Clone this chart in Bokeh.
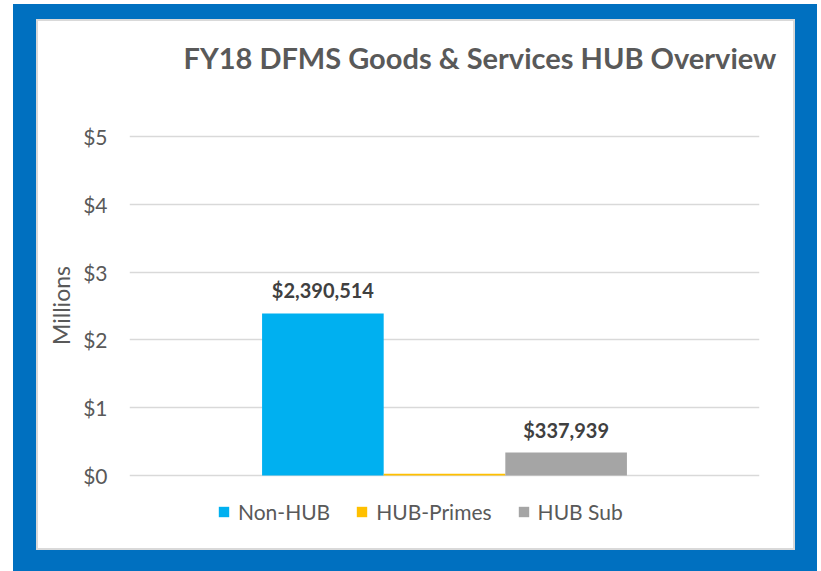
from bokeh.plotting import figure
from bokeh.models import (FactorRange, Range1d, ColumnDataSource, Title,
                          FixedTicker, NumeralTickFormatter)
from bokeh.core.properties import value
from bokeh.embed import file_html
from bokeh.resources import INLINE

title_text = "FY18 DFMS Goods & Services HUB Overview"
series = ["Non-HUB", "HUB-Primes", "HUB Sub"]
values = [2390514, 25000, 337939]
show_label = [True, False, True]
colors = ["#00B0F0", "#FFC000", "#A5A5A5"]
y_ticks = [0, 1, 2, 3, 4, 5]
y_axis_title = "Millions"

values_m = [v / 1e6 for v in values]
labels = [f"${v:,}" if s else "" for v, s in zip(values, show_label)]

src = ColumnDataSource(dict(series=series, value=values_m, color=colors, label=labels))

FONT = "Lato"
GRAY = "#595959"

# plot frame spans from just below the title to just below the legend;
# gridlines/ticks only at $0..$5 (67.8 px per $1M)
p = figure(width=755, height=527,
           x_range=FactorRange(*series, range_padding=1.09, range_padding_units="absolute"),
           y_range=Range1d(-0.826, 5.841),
           output_backend="svg", toolbar_location=None,
           min_border_left=91, min_border_right=34, min_border_top=58, min_border_bottom=17,
           margin=(21, 0, 0, 38),
           styles={"box-shadow": "0 0 0 2px #D9D9D9, -5px 3px 0 20px #0070C0, 4px 3px 0 20px #0070C0"})

p.vbar(x="series", top="value", bottom=0, width=1.0, source=src,
       fill_color="color", line_color=None, legend_field="series")

p.text(x="series", y="value", text="label", source=src, y_offset=-23,
       text_align="center", text_baseline="alphabetic",
       text_font=value(FONT), text_font_style="bold", text_font_size="20px",
       text_color="#404040")

p.xaxis.visible = False
p.xgrid.visible = False
ya = p.yaxis[0]
ya.ticker = FixedTicker(ticks=y_ticks)
ya.formatter = NumeralTickFormatter(format="$0")
ya.axis_line_color = None
ya.major_tick_line_color = None
ya.minor_tick_line_color = None
ya.major_tick_out = 0
ya.major_tick_in = 0
ya.major_label_standoff = 22
ya.major_label_text_font = FONT
ya.major_label_text_font_size = "21px"
ya.major_label_text_color = GRAY
ya.axis_label = y_axis_title
ya.axis_label_standoff = 5
ya.axis_label_text_font = FONT
ya.axis_label_text_font_style = "normal"
ya.axis_label_text_font_size = "23px"
ya.axis_label_text_color = GRAY

p.ygrid.grid_line_color = "#D9D9D9"
p.ygrid.grid_line_width = 1.5
p.outline_line_color = None
p.background_fill_color = "white"
p.border_fill_color = "white"

lg = p.legend[0]
lg.orientation = "horizontal"
lg.location = (88, 7)
lg.padding = 0
lg.margin = 0
lg.spacing = 25
lg.label_standoff = 8
lg.glyph_width = 13
lg.glyph_height = 13
lg.border_line_color = None
lg.background_fill_alpha = 0
lg.label_text_font = FONT
lg.label_text_font_size = "21px"
lg.label_text_color = GRAY

p.add_layout(Title(text=title_text, align="left", offset=54,
                   text_font=FONT, text_font_style="bold", text_font_size="29px",
                   text_color=GRAY), "above")

open("out.html", "w").write(file_html(p, INLINE))
